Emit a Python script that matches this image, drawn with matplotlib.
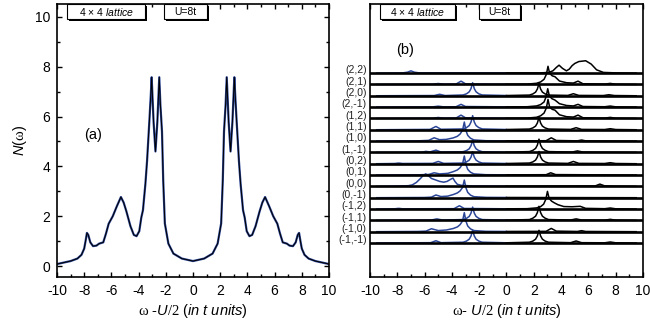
import matplotlib.pyplot as plt
from matplotlib.patches import Rectangle
from matplotlib.ticker import MultipleLocator
from matplotlib.transforms import blended_transform_factory

plt.rcParams["font.family"] = ["Liberation Sans", "DejaVu Sans"]
plt.rcParams["mathtext.fontset"] = "custom"
plt.rcParams["mathtext.rm"] = "Liberation Serif"
plt.rcParams["mathtext.it"] = "Liberation Sans:italic"
plt.rcParams["axes.unicode_minus"] = False

# --- panel (a): total density of states N(w)
omega_a = [-10, -9.5, -9, -8.5, -8.2, -8.0, -7.9, -7.8, -7.7, -7.55, -7.35, -7.1,
           -6.9, -6.6, -6.4, -6.2, -5.9, -5.6, -5.3, -5.1, -4.9, -4.6, -4.35, -4.15,
           -3.95, -3.8, -3.68, -3.5, -3.38, -3.2, -3.1, -3.04, -2.9, -2.76, -2.62,
           -2.48, -2.4, -2.28, -2.19, -2.07, -1.81, -1.44, -0.82, 0,
           0.82, 1.44, 1.81, 2.07, 2.19, 2.28, 2.4, 2.48, 2.62, 2.76, 2.9, 3.04,
           3.1, 3.2, 3.38, 3.5, 3.68, 3.8, 3.95, 4.15, 4.35, 4.6, 4.9, 5.1, 5.3,
           5.6, 5.9, 6.2, 6.4, 6.6, 6.9, 7.1, 7.35, 7.55, 7.7, 7.8, 7.9, 8.0, 8.2,
           8.5, 9, 9.5, 10]
dos_a = [0.08, 0.14, 0.2, 0.3, 0.45, 0.7, 1.0, 1.33, 1.25, 0.95, 0.8, 0.82,
         0.9, 0.95, 1.3, 1.7, 2.0, 2.4, 2.77, 2.55, 2.2, 1.6, 1.25, 1.2,
         1.4, 1.95, 2.24, 3.3, 4.2, 5.9, 6.9, 7.58, 5.8, 4.6, 5.8,
         7.58, 6.5, 5.4, 3.44, 1.71, 0.9, 0.5, 0.3, 0.2,
         0.3, 0.5, 0.9, 1.71, 3.44, 5.4, 6.5, 7.58, 5.8, 4.6, 5.8, 7.58,
         6.9, 5.9, 4.2, 3.3, 2.24, 1.95, 1.4, 1.2, 1.25, 1.6, 2.2, 2.55, 2.77,
         2.4, 2.0, 1.7, 1.3, 0.95, 0.9, 0.82, 0.8, 0.95, 1.25, 1.33, 1.0, 0.7, 0.45,
         0.3, 0.2, 0.14, 0.08]

# --- panel (b): k-resolved spectral functions, (omega, A) pairs per k
k_labels = ["(2,2)", "(2,1)", "(2,0)", "(2,-1)", "(1,2)", "(1,1)", "(1,0)", "(1,-1)",
            "(0,2)", "(0,1)", "(0,0)", "(0,-1)", "(-1,2)", "(-1,1)", "(-1,0)", "(-1,-1)"]

a_22 = [(-9.5, 0.0), (-7.6, 0.02), (-7.25, 0.08), (-7.0, 0.2), (-6.75, 0.08), (-6.4, 0.02),
        (0, 0.02), (2.5, 0.02), (3.1, 0.06), (3.4, 0.2), (3.65, 0.5), (3.85, 0.7), (4.1, 0.42),
        (4.39, 0.2), (4.6, 0.35), (4.8, 0.65), (5.0, 0.85), (5.3, 1.02), (5.8, 1.09), (6.2, 0.8),
        (6.6, 0.29), (7.1, 0.06), (8.0, 0.02), (9.5, 0.0)]
a_21 = [(-9.5, 0.0), (-5.4, 0.02), (-5.0, 0.08), (-4.6, 0.02), (-3.7, 0.03), (-3.33, 0.29),
        (-3.0, 0.05), (-1.0, 0.02), (0, 0.02), (1.5, 0.03), (2.2, 0.1), (2.5, 0.22), (2.75, 0.45),
        (2.92, 0.88), (3.04, 1.6), (3.16, 0.98), (3.35, 0.76), (3.55, 0.68), (3.88, 0.3),
        (4.4, 0.15), (4.9, 0.12), (5.24, 0.29), (5.6, 0.06), (7.2, 0.03), (7.6, 0.09),
        (8.0, 0.02), (9.5, 0.0)]
a_20 = [(-9.5, 0.0), (-5.3, 0.02), (-4.9, 0.13), (-4.5, 0.02), (-3.18, 0.07), (-2.93, 0.17),
        (-2.73, 0.35), (-2.6, 0.63), (-2.48, 1.15), (-2.36, 0.63), (-2.23, 0.35), (-2.03, 0.17),
        (-1.78, 0.07), (0, 0.02), (1.68, 0.06), (1.93, 0.16), (2.13, 0.32), (2.26, 0.59),
        (2.38, 1.08), (2.5, 0.59), (2.63, 0.32), (2.83, 0.16), (3.08, 0.06), (4.5, 0.03),
        (4.9, 0.18), (5.3, 0.03), (7.1, 0.02), (7.5, 0.09), (7.9, 0.02), (9.5, 0.0)]
a_2m1 = [(-9.5, 0.0), (-5.4, 0.02), (-5.0, 0.08), (-4.6, 0.02), (-3.7, 0.03), (-3.33, 0.24),
         (-3.0, 0.05), (0, 0.02), (1.5, 0.03), (2.2, 0.1), (2.5, 0.22), (2.75, 0.45), (2.9, 0.9),
         (3.02, 1.62), (3.14, 0.98), (3.33, 0.74), (3.55, 0.62), (3.88, 0.3), (4.4, 0.14),
         (4.9, 0.1), (5.24, 0.24), (5.6, 0.05), (7.2, 0.03), (7.6, 0.09), (8.0, 0.02), (9.5, 0.0)]
a_12 = [(-9.5, 0.0), (-5.4, 0.02), (-5.0, 0.08), (-4.6, 0.02), (-3.7, 0.03), (-3.33, 0.29),
        (-3.0, 0.05), (0, 0.02), (1.5, 0.03), (2.2, 0.1), (2.5, 0.23), (2.75, 0.47), (2.92, 0.92),
        (3.04, 1.68), (3.16, 1.0), (3.35, 0.8), (3.55, 0.73), (3.88, 0.32), (4.4, 0.15),
        (4.9, 0.12), (5.24, 0.29), (5.6, 0.06), (7.2, 0.03), (7.6, 0.09), (8.0, 0.02), (9.5, 0.0)]
a_11 = [(-9.5, 0.0), (-5.6, 0.03), (-5.17, 0.29), (-4.8, 0.04), (-3.18, 0.07), (-2.93, 0.19),
        (-2.73, 0.37), (-2.6, 0.68), (-2.48, 1.24), (-2.36, 0.68), (-2.23, 0.37), (-2.03, 0.19),
        (-1.78, 0.07), (0, 0.02), (1.68, 0.06), (1.93, 0.16), (2.13, 0.32), (2.26, 0.59),
        (2.38, 1.08), (2.5, 0.59), (2.63, 0.32), (2.83, 0.16), (3.08, 0.06), (4.7, 0.03),
        (5.1, 0.18), (5.5, 0.03), (7.2, 0.02), (7.6, 0.09), (8.0, 0.02), (9.5, 0.0)]
a_10 = [(-9.5, 0.0), (-6.5, 0.02), (-5.7, 0.06), (-5.3, 0.29), (-4.9, 0.12), (-4.4, 0.15),
        (-3.9, 0.28), (-3.6, 0.42), (-3.4, 0.62), (-3.22, 0.95), (-3.09, 1.68), (-2.97, 0.92),
        (-2.84, 0.5), (-2.64, 0.25), (-2.39, 0.1), (-1.5, 0.03), (0, 0.02), (2.9, 0.03),
        (3.28, 0.29), (3.65, 0.05), (5.2, 0.02), (5.5, 0.09), (5.8, 0.02), (9.5, 0.0)]
a_1m1 = [(-9.5, 0.0), (-6.2, 0.02), (-5.9, 0.09), (-5.6, 0.04), (-5.17, 0.2), (-4.8, 0.03),
         (-3.18, 0.06), (-2.93, 0.16), (-2.73, 0.32), (-2.6, 0.59), (-2.48, 1.08), (-2.36, 0.59),
         (-2.23, 0.32), (-2.03, 0.16), (-1.78, 0.06), (0, 0.02), (1.68, 0.07), (1.93, 0.18),
         (2.13, 0.35), (2.26, 0.64), (2.38, 1.17), (2.5, 0.64), (2.63, 0.35), (2.83, 0.18),
         (3.08, 0.07), (4.8, 0.03), (5.2, 0.13), (5.6, 0.03), (9.5, 0.0)]
a_02 = [(-9.5, 0.0), (-8.2, 0.02), (-7.9, 0.06), (-7.6, 0.02), (-5.4, 0.03), (-5.0, 0.2),
        (-4.6, 0.03), (-3.18, 0.06), (-2.93, 0.16), (-2.73, 0.32), (-2.6, 0.58), (-2.48, 1.06),
        (-2.36, 0.58), (-2.23, 0.32), (-2.03, 0.16), (-1.78, 0.06), (0, 0.02), (1.68, 0.06),
        (1.93, 0.16), (2.13, 0.32), (2.26, 0.59), (2.38, 1.08), (2.5, 0.59), (2.63, 0.32),
        (2.83, 0.16), (3.08, 0.06), (4.5, 0.03), (4.9, 0.2), (5.3, 0.03), (7.2, 0.02),
        (7.6, 0.09), (8.0, 0.02), (9.5, 0.0)]
a_01 = [(-9.5, 0.0), (-6.5, 0.02), (-5.7, 0.05), (-5.3, 0.2), (-4.9, 0.1), (-4.3, 0.15),
        (-3.9, 0.3), (-3.6, 0.45), (-3.4, 0.65), (-3.22, 0.98), (-3.09, 1.68), (-2.97, 0.92),
        (-2.84, 0.5), (-2.64, 0.25), (-2.39, 0.1), (-1.5, 0.03), (0, 0.02), (2.9, 0.03),
        (3.24, 0.2), (3.6, 0.04), (9.5, 0.0)]
a_00 = [(-9.5, 0.0), (-8.0, 0.03), (-7.2, 0.06), (-6.9, 0.13), (-6.6, 0.35), (-6.3, 0.7),
        (-6.1, 0.97), (-5.92, 1.1), (-5.75, 0.97), (-5.5, 0.7), (-5.2, 0.57), (-4.9, 0.44),
        (-4.6, 0.37), (-4.35, 0.44), (-4.1, 0.62), (-3.92, 0.73), (-3.78, 0.44), (-3.6, 0.18),
        (-3.3, 0.09), (-2.5, 0.04), (0, 0.02), (6.5, 0.04), (6.84, 0.2), (7.2, 0.04),
        (8.0, 0.02), (9.5, 0.0)]
a_0m1 = [(-9.5, 0.0), (-6.0, 0.02), (-5.5, 0.05), (-5.17, 0.24), (-4.8, 0.1), (-4.3, 0.14),
         (-3.9, 0.28), (-3.6, 0.42), (-3.4, 0.6), (-3.22, 0.9), (-3.09, 1.56), (-2.97, 0.86),
         (-2.84, 0.47), (-2.64, 0.23), (-2.39, 0.09), (-1.5, 0.03), (0, 0.02), (9.5, 0.0)]
a_m12 = [(-9.5, 0.0), (-8.2, 0.02), (-7.9, 0.06), (-7.6, 0.02), (-3.85, 0.03), (-3.45, 0.29),
         (-3.1, 0.05), (0, 0.02), (1.5, 0.03), (2.2, 0.1), (2.5, 0.21), (2.72, 0.43), (2.88, 0.86),
         (3.0, 1.56), (3.12, 0.95), (3.3, 0.7), (3.5, 0.55), (3.77, 0.38), (4.2, 0.22),
         (4.8, 0.2), (5.4, 0.24), (5.8, 0.06), (7.2, 0.03), (7.6, 0.09), (8.0, 0.02), (9.5, 0.0)]
a_m11 = [(-9.5, 0.0), (-5.5, 0.03), (-5.1, 0.13), (-4.7, 0.03), (-3.18, 0.07), (-2.93, 0.18),
         (-2.73, 0.35), (-2.6, 0.64), (-2.48, 1.17), (-2.36, 0.64), (-2.23, 0.35), (-2.03, 0.18),
         (-1.78, 0.07), (0, 0.02), (1.68, 0.07), (1.93, 0.19), (2.13, 0.37), (2.26, 0.68),
         (2.38, 1.24), (2.5, 0.68), (2.63, 0.37), (2.83, 0.19), (3.08, 0.07), (4.7, 0.03),
         (5.1, 0.13), (5.5, 0.03), (7.2, 0.02), (7.6, 0.09), (8.0, 0.02), (9.5, 0.0)]
a_m10 = [(-9.5, 0.0), (-6.5, 0.02), (-5.9, 0.05), (-5.5, 0.26), (-5.0, 0.1), (-4.4, 0.15),
         (-3.9, 0.28), (-3.6, 0.42), (-3.4, 0.62), (-3.22, 0.95), (-3.09, 1.68), (-2.97, 0.92),
         (-2.84, 0.5), (-2.64, 0.25), (-2.39, 0.1), (-1.5, 0.03), (0, 0.02), (2.9, 0.03),
         (3.28, 0.29), (3.65, 0.05), (5.2, 0.02), (5.5, 0.09), (5.8, 0.02), (9.5, 0.0)]
a_m1m1 = [(-9.5, 0.0), (-5.55, 0.03), (-5.17, 0.2), (-4.8, 0.03), (-3.18, 0.07), (-2.93, 0.17),
          (-2.73, 0.34), (-2.6, 0.62), (-2.48, 1.12), (-2.36, 0.62), (-2.23, 0.34), (-2.03, 0.17),
          (-1.78, 0.07), (0, 0.02), (1.68, 0.07), (1.93, 0.17), (2.13, 0.34), (2.26, 0.62),
          (2.38, 1.12), (2.5, 0.62), (2.63, 0.34), (2.83, 0.17), (3.08, 0.07), (4.7, 0.03),
          (5.1, 0.18), (5.5, 0.03), (7.2, 0.02), (7.6, 0.09), (8.0, 0.02), (9.5, 0.0)]

k_curves = [a_22, a_21, a_20, a_2m1, a_12, a_11, a_10, a_1m1,
            a_02, a_01, a_00, a_0m1, a_m12, a_m11, a_m10, a_m1m1]

BLUE = "#2b4596"


def style_axes(ax):
    for sp in ax.spines.values():
        sp.set_linewidth(1.2)
    ax.set_xlim(-10, 10)
    ax.xaxis.set_major_locator(MultipleLocator(2))
    ax.xaxis.set_minor_locator(MultipleLocator(1))
    ax.tick_params(which="both", direction="in", top=True, right=True,
                   labelsize=10, width=1.0, pad=5)
    ax.tick_params(which="major", length=3.5)
    ax.tick_params(which="minor", length=2.5)


def add_box(ax, x0, w, txt):
    # framed label with a drop shadow, hanging from the top axis
    y0, h = 0.945, 0.055
    ax.add_patch(Rectangle((x0 + 0.007, y0 - 0.008), w, h, transform=ax.transAxes,
                           facecolor="black", edgecolor="none", clip_on=False, zorder=5))
    ax.add_patch(Rectangle((x0, y0), w, h, transform=ax.transAxes, facecolor="white",
                           edgecolor="black", linewidth=0.8, clip_on=False, zorder=6))
    ax.text(x0 + w / 2, y0 + h / 2, txt, transform=ax.transAxes, ha="center",
            va="center", fontsize=7.5, zorder=7)


fig = plt.figure(figsize=(6.5, 3.29), dpi=100)
ax_a = fig.add_axes([57 / 650, 52 / 329, 272 / 650, 273 / 329])
ax_b = fig.add_axes([370 / 650, 52 / 329, 273 / 650, 273 / 329])

# panel (a)
ax_a.plot(omega_a, dos_a, color=BLUE, linewidth=1.6)
ax_a.plot(omega_a, dos_a, color="black", linewidth=0.7)
style_axes(ax_a)
ax_a.set_ylim(-0.44, 10.52)
ax_a.yaxis.set_major_locator(MultipleLocator(2))
ax_a.yaxis.set_minor_locator(MultipleLocator(1))
ax_a.set_xlabel(r"$\mathrm{\omega}$ -$\mathit{U/2}$ ($\mathit{in\ t\ units}$)",
                fontsize=10.5, labelpad=3)
ax_a.set_ylabel(r"$\mathit{N}$($\mathrm{\omega}$)", fontsize=10.5, labelpad=4)
ax_a.text(0.132, 0.52, "(a)", transform=ax_a.transAxes, ha="center", va="center",
          fontsize=10.5)
add_box(ax_a, 0.038, 0.286, r"4 × 4 $\mathit{lattice}$")
add_box(ax_a, 0.394, 0.157, "U=8t")

# panel (b): stacked spectra, top row first; curves sit under the thick baselines
style_axes(ax_b)
ax_b.set_ylim(-3.0, 21.1)
ax_b.set_yticks([])
ax_b.tick_params(which="both", left=False, right=False)
n_rows = len(k_curves)
lab_tr = blended_transform_factory(ax_b.transAxes, ax_b.transData)
for i, (lab, pts) in enumerate(zip(k_labels, k_curves)):
    off = n_rows - 1 - i
    ax_b.plot([-10, 10], [off, off], color="black", linewidth=1.9, zorder=3)
    neg = [p for p in pts if p[0] <= 0]
    pos = [p for p in pts if p[0] >= 0]
    ax_b.plot([p[0] for p in neg], [off + p[1] for p in neg], color=BLUE,
              linewidth=1.1, zorder=2)
    ax_b.plot([p[0] for p in pos], [off + p[1] for p in pos], color="black",
              linewidth=1.1, zorder=2)
    ax_b.text(-0.012, off + 0.25, lab, transform=lab_tr, ha="right", va="center",
              fontsize=7.5, color="#222222")
ax_b.set_xlabel(r"$\mathrm{\omega}$- $\mathit{U/2}$ ($\mathit{in\ t\ units}$)",
                fontsize=10.5, labelpad=3)
ax_b.text(0.128, 0.83, "(b)", transform=ax_b.transAxes, ha="center", va="center",
          fontsize=10.5)
add_box(ax_b, 0.037, 0.275, r"4 × 4 $\mathit{lattice}$")
add_box(ax_b, 0.40, 0.15, "U=8t")

fig.savefig("out.png", dpi=100)
